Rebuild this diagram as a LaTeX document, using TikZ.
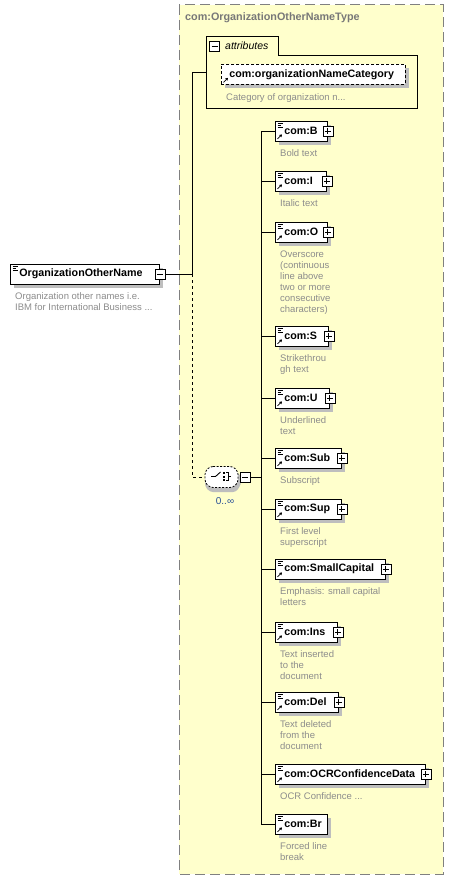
\documentclass[tikz,border=0pt]{standalone}
\usepackage{fontspec}
\setmainfont{Liberation Sans}
\usetikzlibrary{shadows,calc,arrows.meta}
\definecolor{bgyellow}{RGB}{255,255,204}
\definecolor{framegray}{RGB}{128,128,128}
\definecolor{desctext}{RGB}{140,140,140}
\definecolor{shadegray}{RGB}{190,190,190}
\definecolor{occblue}{RGB}{40,80,150}
\definecolor{titlegray}{RGB}{120,120,120}
\newcommand\elemicon[1]{%
  \draw[line width=0.7pt] ($(#1.north west)+(2.5,3)$) -- +(5,0)
        ($(#1.north west)+(2.5,5)$) -- +(3.5,0)
        ($(#1.north west)+(2.5,7)$) -- +(5,0);}
\newcommand\reficon[1]{%
  \draw[line width=0.8pt,-{Triangle[length=2.5pt,width=3pt]}] ($(#1.south west)+(2.5,-2.5)$) -- +(4.5,-4.5);}
\begin{document}
\begin{tikzpicture}[x=1pt,y=-1pt,
  conn/.style={line width=0.8pt, draw=black},
  elem/.style={draw=black, fill=white, line width=0.8pt, anchor=west,
    minimum height=20pt, inner xsep=0pt, inner ysep=0pt, text width=#1,
    align=left, font=\fontsize{10.7}{12}\selectfont\bfseries,
    drop shadow={shadow xshift=4pt, shadow yshift=-4pt, fill=shadegray, opacity=1}},
  desc/.style={anchor=north west, inner sep=0pt, align=left,
    font=\fontsize{9.5}{11}\selectfont, text=desctext},
  pmbox/.style={draw=black, fill=white, line width=0.6pt, minimum size=10pt, inner sep=0pt},
  plusbox/.style={pmbox, path picture={\draw[line width=0.7pt]
     ([xshift=2pt]path picture bounding box.west) -- ([xshift=-2pt]path picture bounding box.east)
     ([yshift=-2pt]path picture bounding box.north) -- ([yshift=2pt]path picture bounding box.south);}},
  minusbox/.style={pmbox, path picture={\draw[line width=0.7pt]
     ([xshift=2pt]path picture bounding box.west) -- ([xshift=-2pt]path picture bounding box.east);}}
]
\useasboundingbox (0,0) rectangle (454,880);
\fill[white] (0,0) rectangle (454,880);
% outer type frame
\draw[framegray, fill=bgyellow, line width=1pt, dash pattern=on 10pt off 5pt] (179,5) rectangle (443,874);
\node[anchor=west, inner sep=0pt, font=\fontsize{10.8}{12}\selectfont\bfseries, text=titlegray] (title) at (185,18) {com:OrganizationOtherNameType};

% attributes group
\draw[line width=0.8pt] (206,108) -- (206,36) -- (278,36) -- (278,55) -- (417,55) -- (417,108) -- cycle;
\node[inner sep=0pt, minimum width=211pt, minimum height=53pt, anchor=north west] (attrbox) at (206,55) {};
\node[minusbox] (attrm) at (214.5,46) {};
\node[anchor=west, inner sep=0pt, font=\fontsize{10.5}{12}\selectfont\itshape] (attrlbl) at (225,46) {attributes};
\node[elem=184pt, dash pattern=on 3pt off 2pt] (attr) at (221,74.5) {\hspace*{8pt}com:organizationNameCategory};
\reficon{attr}
\node[desc] (attrd) at ($(attr.south west)+(5,8.4)$) {Category of organization n...};

% root element
\node[elem=149pt] (root) at (10,274) {\hspace*{9pt}OrganizationOtherName};
\elemicon{root}
\node[minusbox] (rootm) at (root.east) {};
\node[desc] (rootd) at ($(root.south west)+(5,8.4)$) {Organization other names i.e.\\IBM for International Business ...};

% choice compositor
\fill[shadegray, rounded corners=3pt]
  (213,469.5) -- (233,469.5) -- (241,475.5) -- (241,484.5) -- (236,492) -- (210,492) -- (205,486.5) -- (205,474.5) -- cycle;
\draw[line width=0.8pt, dash pattern=on 2pt off 1.5pt, fill=white, rounded corners=3pt]
  (210,466.5) -- (233,466.5) -- (238,471.5) -- (238,482.5) -- (233,487.5) -- (210,487.5) -- (205,482.5) -- (205,471.5) -- cycle;
\node[minimum width=33pt, minimum height=21pt, inner sep=0pt] (ch) at (221.5,477) {};
\draw[line width=0.9pt] (211,476.5) -- (215.5,476.5) -- (220.5,472);
\fill (222.5,471.8) rectangle (225,473.8);
\fill (222.5,475.5) rectangle (225,477.5);
\fill (222.5,479.2) rectangle (225,481.2);
\draw[line width=0.7pt] (226,472.8) -- (228.5,472.8) -- (228.5,480.2) -- (226,480.2) (228.5,476.5) -- (231,476.5);
\node[minusbox] (chm) at (245,477) {};
\node[inner sep=0pt, font=\fontsize{10}{12}\selectfont, text=occblue] (occ) at (225,501) {0..∞};

% connectors from root
\coordinate (jn) at (192,274);
\coordinate (attrin) at ($(attrbox.north west)+(0,17)$);
\draw[conn] (rootm.east) -- (jn);
\draw[conn] (jn) |- (attrin);
\draw[conn, dash pattern=on 3pt off 3pt] (jn) |- (ch.west);

% child elements
\coordinate (bus) at (261,477);
\foreach \n/\lab/\yy/\w/\dsc in {
  b/com:B/131/52/{Bold text},
  i/com:I/181/51/{Italic text},
  o/com:O/232/52/{Overscore\\(continuous\\line above\\two or more\\consecutive\\characters)},
  s/com:S/336/53/{Strikethrou\\gh text},
  u/com:U/398/54/{Underlined\\text},
  sub/com:Sub/458/66/{Subscript},
  sup/com:Sup/509/66/{First level\\superscript},
  sc/com:SmallCapital/569/110/{Emphasis: small capital\\letters},
  ins/com:Ins/632/62/{Text inserted\\to the\\document},
  del/com:Del/702/63/{Text deleted\\from the\\document},
  ocr/com:OCRConfidenceData/774/150/{OCR Confidence ...}}
{
  \node[elem=\w pt] (\n) at (275,\yy) {\hspace*{9pt}\lab};
  \elemicon{\n}
  \reficon{\n}
  \node[plusbox] (\n p) at (\n.east) {};
  \node[desc] (\n d) at ($(\n.south west)+(5,8.4)$) {\dsc};
  \draw[conn] (\n.west) -- (\n.west -| bus);
}
\node[elem=52pt] (br) at (275,824) {\hspace*{9pt}com:Br};
\elemicon{br}
\reficon{br}
\node[desc] (brd) at ($(br.south west)+(5,8.4)$) {Forced line\\break};
\draw[conn] (br.west) -- (br.west -| bus);
\draw[conn] (chm.east) -- (bus);
\draw[conn] (b.west -| bus) -- (br.west -| bus);
\end{tikzpicture}
\end{document}
